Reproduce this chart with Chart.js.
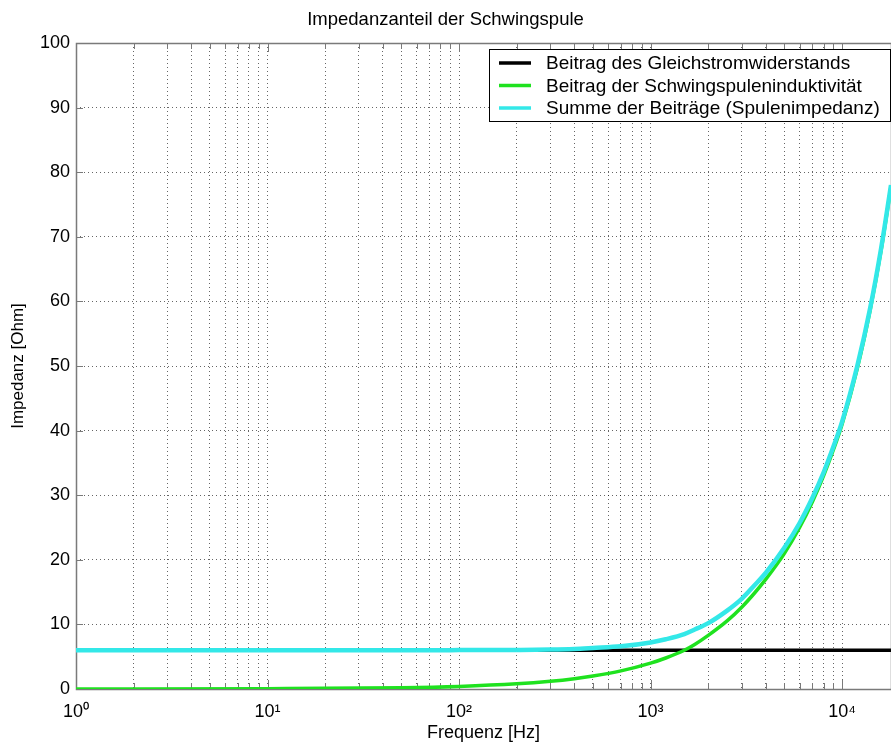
<!DOCTYPE html>
<html>
<head>
<meta charset="utf-8">
<script src="https://cdn.jsdelivr.net/npm/chart.js@4/dist/chart.umd.min.js"></script>
<style>
  html, body { margin: 0; padding: 0; background: #fff; }
  canvas { display: block; }
</style>
</head>
<body>
<canvas id="impChart" width="891" height="747"></canvas>
<script>
// Frequency points [Hz]
var freqs      = [1, 10, 50, 100, 200, 300, 400, 500, 700, 1000, 1200, 1500, 1700, 2000, 2500, 3000, 3500, 4000, 5000, 6000, 7000, 8000, 9000, 10000, 12000, 14000, 16000, 18000];
// DC resistance contribution [Ohm]
var dcPart     = [6.0, 6.0, 6.0, 6.0, 6.0, 6.0, 6.0, 6.0, 6.0, 6.0, 6.0, 6.0, 6.0, 6.0, 6.0, 6.0, 6.0, 6.0, 6.0, 6.0, 6.0, 6.0, 6.0, 6.0, 6.0, 6.0, 6.0, 6.0];
// inductive contribution [Ohm]
var indPart    = [0.0, 0.05, 0.2, 0.4, 0.8, 1.2, 1.6, 2.0, 2.8, 4.0, 4.8, 6.0, 6.9, 8.3, 10.5, 12.7, 14.9, 17.0, 21.0, 25.0, 29.0, 33.0, 37.0, 41.0, 49.6, 58.6, 68.0, 77.8];
// sum (coil impedance) [Ohm]
var sumPart    = [6.0, 6.0, 6.0, 6.02, 6.05, 6.1, 6.2, 6.35, 6.6, 7.2, 7.7, 8.5, 9.2, 10.2, 12.1, 14.0, 16.1, 18.0, 21.9, 25.7, 29.6, 33.5, 37.5, 41.4, 50.0, 58.9, 68.3, 78.0];

var seriesLabels = ['Beitrag des Gleichstromwiderstands', 'Beitrag der Schwingspuleninduktivität', 'Summe der Beiträge (Spulenimpedanz)'];
var decades      = [1, 10, 100, 1000, 10000];
var xTickLabels  = ['10\u2070', '10\u00b9', '10\u00b2', '10\u00b3', '10\u2074'];

function pts(ys) {
  return freqs.map(function(f, i){ return { x: f, y: ys[i] }; });
}

// ── frame + inward tick marks (matlab style) ─────
var framePlugin = {
  id: 'frame',
  beforeDatasetsDraw: function(chart) {
    var ctx = chart.ctx, a = chart.chartArea;
    var xs = chart.scales.x, ys = chart.scales.y;
    ctx.save();
    ctx.strokeStyle = '#7a7a7a';
    ctx.lineWidth = 1;
    ctx.beginPath();
    xs.ticks.forEach(function(t){
      var px = Math.round(xs.getPixelForValue(t.value)) + 0.5;
      var len = decades.indexOf(t.value) >= 0 ? 9 : 6;
      ctx.moveTo(px, a.bottom); ctx.lineTo(px, a.bottom - len);
      ctx.moveTo(px, a.top);    ctx.lineTo(px, a.top + len);
    });
    ys.ticks.forEach(function(t){
      var py = Math.round(ys.getPixelForValue(t.value)) + 0.5;
      ctx.moveTo(a.left, py); ctx.lineTo(a.left + 7, py);
    });
    ctx.stroke();
    ctx.lineWidth = 1.5;
    ctx.strokeRect(a.left + 0.5, a.top + 0.5, a.right - a.left, a.bottom - a.top);
    ctx.restore();
  }
};

// ── legend box inside plot, top right ────────────
var legendBox = {
  id: 'legendBox',
  afterDraw: function(chart) {
    var ctx = chart.ctx, a = chart.chartArea;
    var x1 = 489, y1 = 49, x2 = a.right - 1, y2 = 121;
    ctx.save();
    ctx.fillStyle = '#fff';
    ctx.fillRect(x1, y1, x2 - x1, y2 - y1);
    ctx.strokeStyle = '#000';
    ctx.lineWidth = 1;
    ctx.strokeRect(x1 + 0.5, y1 + 0.5, x2 - x1, y2 - y1);
    ctx.font = '19px "Liberation Sans", Arial, sans-serif';
    ctx.textBaseline = 'middle';
    ctx.fillStyle = '#000';
    chart.data.datasets.forEach(function(ds, i){
      var y = 63 + i * 22.5;
      ctx.strokeStyle = ds.borderColor;
      ctx.lineWidth = 3.5;
      ctx.beginPath();
      ctx.moveTo(499, y); ctx.lineTo(531, y);
      ctx.stroke();
      ctx.fillText(ds.label, 546, y + 1);
    });
    ctx.restore();
  }
};

var fontFam = '"Liberation Sans", Arial, sans-serif';

new Chart(document.getElementById('impChart'), {
  type: 'line',
  data: {
    datasets: [
      { label: seriesLabels[0], data: pts(dcPart),  borderColor: '#000000', borderWidth: 3.5, order: 2 },
      { label: seriesLabels[1], data: pts(indPart), borderColor: '#1fe21f', borderWidth: 3.5, order: 1 },
      { label: seriesLabels[2], data: pts(sumPart), borderColor: '#33e8e8', borderWidth: 4.5, order: 0 }
    ]
  },
  options: {
    responsive: false,
    animation: false,
    devicePixelRatio: 1,
    layout: { padding: 0 },
    elements: {
      point: { radius: 0 },
      line: { cubicInterpolationMode: 'monotone', fill: false, borderCapStyle: 'butt' }
    },
    plugins: {
      legend: { display: false },
      tooltip: { enabled: false },
      title: {
        display: true,
        text: 'Impedanzanteil der Schwingspule',
        color: '#000',
        font: { family: fontFam, size: 18.5, weight: 'normal' },
        padding: { top: 9, bottom: 11.8 }
      }
    },
    scales: {
      x: {
        type: 'logarithmic',
        min: 1, max: 18000,
        afterFit: function(s){ s.height = 58; },
        afterBuildTicks: function(s){
          var t = [];
          decades.forEach(function(d){
            for (var m = 1; m <= 9; m++) {
              if (d * m <= 18000) t.push({ value: d * m });
            }
          });
          s.ticks = t;
        },
        ticks: {
          autoSkip: false, maxRotation: 0, padding: 12, color: '#000',
          font: { family: fontFam, size: 18 },
          callback: function(v){
            var i = decades.indexOf(v);
            return i >= 0 ? xTickLabels[i] : '';
          }
        },
        grid: { color: 'rgba(0,0,0,0.6)', lineWidth: 1, drawTicks: false },
        border: { display: false, dash: [1, 3] },
        title: {
          display: true, text: 'Frequenz [Hz]', color: '#000',
          font: { family: fontFam, size: 18 },
          padding: { top: 0, bottom: 3 }
        }
      },
      y: {
        min: 0, max: 100,
        afterFit: function(s){ s.width = 76; },
        ticks: {
          stepSize: 10, padding: 6, color: '#000',
          font: { family: fontFam, size: 18 }
        },
        grid: { color: 'rgba(0,0,0,0.6)', lineWidth: 1, drawTicks: false },
        border: { display: false, dash: [1, 3] },
        title: {
          display: true, text: 'Impedanz [Ohm]', color: '#000',
          font: { family: fontFam, size: 17 },
          padding: { top: 8, bottom: 0 }
        }
      }
    }
  },
  plugins: [framePlugin, legendBox]
});
</script>
</body>
</html>
